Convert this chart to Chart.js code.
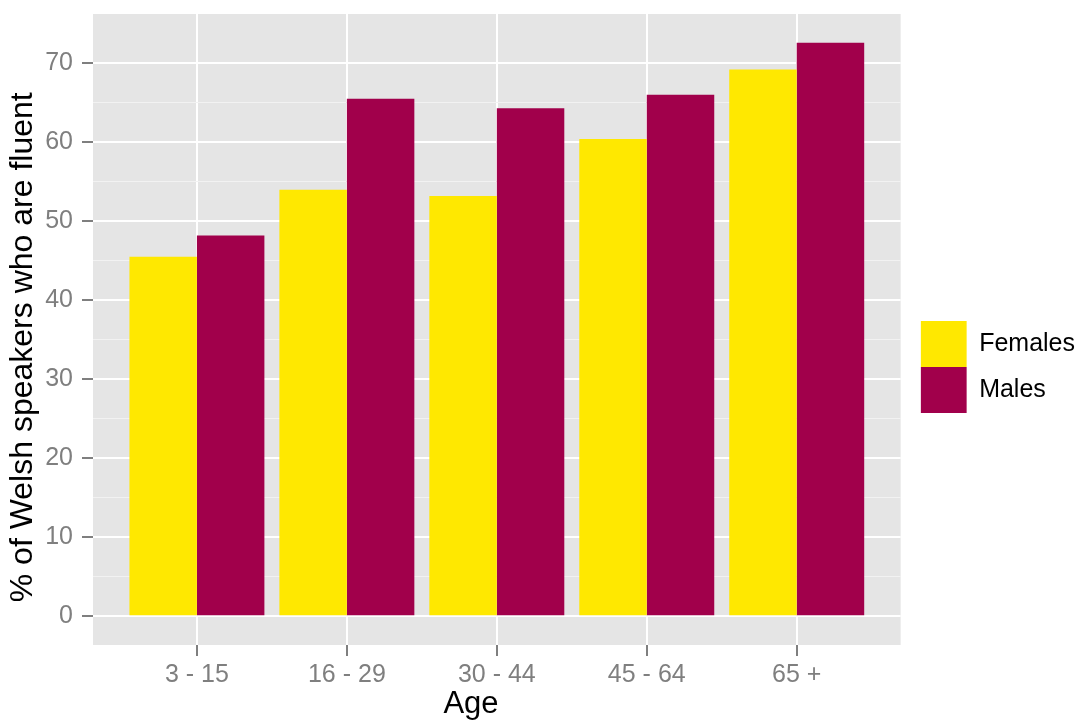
<!DOCTYPE html>
<html>
<head>
<meta charset="utf-8">
<script src="https://cdn.jsdelivr.net/npm/chart.js@4.4.1/dist/chart.umd.min.js"></script>
<style>
  html, body { margin: 0; padding: 0; background: #fff; }
  #wrap { width: 1079px; height: 720px; }
</style>
</head>
<body>
<div id="wrap"><canvas id="fluencyChart"></canvas></div>
<script>
// Data
const AGE_GROUPS = ["3 - 15", "16 - 29", "30 - 44", "45 - 64", "65 +"];
const FEMALES = [45.5, 54.0, 53.2, 60.4, 69.2];
const MALES = [48.2, 65.5, 64.3, 66.0, 72.6];
const SERIES = ["Females", "Males"];
const Y_MAJOR_STEP = 10;
const Y_MINOR_STEP = 5;

// Colours
const COLOR_F = '#FFE800';
const COLOR_M = '#A1004B';
const GREY_TEXT = '#7F7F7F';
const FONT = 'Liberation Sans, Arial, sans-serif';

const isMajor = v => v % Y_MAJOR_STEP === 0;
const toPoints = arr => arr.map((v, i) => ({ x: i + 1, y: v }));

// grey panel behind the plot, ggplot style
const panelBg = {
    id: 'panelBg',
    beforeDraw(chart) {
        const { ctx, chartArea: a } = chart;
        ctx.save();
        ctx.fillStyle = '#E5E5E5';
        ctx.fillRect(a.left, a.top, a.right - a.left, a.bottom - a.top);
        ctx.restore();
    }
};

new Chart(document.getElementById('fluencyChart'), {
    type: 'bar',
    data: {
        datasets: [
            { label: SERIES[0], data: toPoints(FEMALES), backgroundColor: COLOR_F, borderWidth: 0, categoryPercentage: 0.9, barPercentage: 1.0 },
            { label: SERIES[1], data: toPoints(MALES), backgroundColor: COLOR_M, borderWidth: 0, categoryPercentage: 0.9, barPercentage: 1.0 }
        ]
    },
    options: {
        responsive: true,
        maintainAspectRatio: false,
        animation: false,
        layout: { padding: { top: 14, right: -6, bottom: 0, left: 0 } },
        plugins: {
            legend: {
                position: 'right',
                labels: { boxWidth: 46, boxHeight: 46, padding: 0, color: '#000', font: { size: 25, family: FONT } }
            },
            tooltip: { enabled: false }
        },
        scales: {
            x: {
                type: 'linear',
                offset: false,
                min: 0.307,
                max: 5.693,
                afterBuildTicks: s => { s.ticks = AGE_GROUPS.map((_, i) => ({ value: i + 1 })); },
                afterFit: s => { s.height = 75; s.paddingLeft = 0; s.paddingRight = 0; },
                ticks: {
                    autoSkip: false, maxRotation: 0, padding: 4, color: GREY_TEXT,
                    font: { size: 25, family: FONT },
                    callback: v => AGE_GROUPS[v - 1]
                },
                grid: { offset: false, color: '#FFFFFF', lineWidth: 2, tickColor: GREY_TEXT, tickLength: 11, tickWidth: 2 },
                border: { display: false },
                title: {
                    display: true, text: 'Age      ', color: '#000',
                    font: { size: 31, family: FONT, lineHeight: 1 }, padding: { top: 0, bottom: 0 }
                }
            },
            y: {
                min: -3.63,
                max: 76.23,
                ticks: {
                    stepSize: Y_MINOR_STEP, padding: 9, color: GREY_TEXT,
                    font: { size: 25, family: FONT, lineHeight: 1 },
                    callback: v => isMajor(v) ? v : ''
                },
                afterBuildTicks: s => { s.ticks = s.ticks.filter(t => t.value % Y_MINOR_STEP === 0); },
                afterFit: s => { s.width = 93; s.paddingTop = 0; s.paddingBottom = 0; },
                grid: {
                    color: c => c.tick && isMajor(c.tick.value) ? '#FFFFFF' : '#F2F2F2',
                    lineWidth: c => c.tick && isMajor(c.tick.value) ? 2 : 1,
                    tickColor: c => c.tick && isMajor(c.tick.value) ? GREY_TEXT : 'rgba(0,0,0,0)',
                    tickLength: 11,
                    tickWidth: 2
                },
                border: { display: false },
                title: {
                    display: true, text: '% of Welsh speakers who are fluent    ', color: '#000',
                    font: { size: 32, family: FONT, lineHeight: 1 }, padding: { top: 7, bottom: 0 }
                }
            },
            // empty axis only to keep a gap between the panel and the legend
            gap: {
                type: 'linear', position: 'right', display: true,
                grid: { display: false }, ticks: { display: false }, border: { display: false },
                afterFit: s => { s.width = 20; }
            }
        }
    },
    plugins: [panelBg]
});
</script>
</body>
</html>
